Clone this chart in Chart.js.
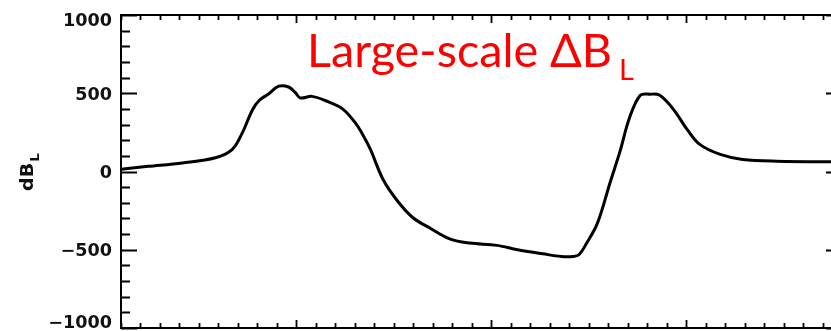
<!DOCTYPE html>
<html>
<head>
<meta charset="utf-8">
<script src="https://cdn.jsdelivr.net/npm/chart.js@4/dist/chart.umd.min.js"></script>
<style>
  html, body { margin: 0; padding: 0; background: #fff; overflow: hidden; }
  #wrap { position: relative; width: 845px; height: 331px; }
</style>
</head>
<body>
<div id="wrap"><canvas id="c" width="845" height="331"></canvas></div>
<script>
// Sample positions along the track (axis units: minor tick = 1)
const timeSteps = [
  1.0, 2.4, 4.15, 5.85, 6.7, 7.2, 7.75, 8.1, 8.55, 9.1, 9.6, 9.95, 10.2, 10.8,
  11.5, 12.35, 13.0, 13.45, 13.8, 14.45, 15.2, 16.0, 16.85, 17.9, 18.9, 20.3,
  21.35, 22.65, 23.6, 24.2, 24.5, 24.9, 25.45, 26.1, 26.6, 27.1, 27.65, 28.15,
  28.65, 29.35, 30.05, 30.7, 31.75, 32.9, 34.65, 38.0
];
// Large-scale dB_L
const deltaBL = [
  15, 33, 55, 88, 140, 240, 395, 455, 494, 545, 540, 504, 470, 480,
  452, 402, 315, 226, 141, -51, -190, -297, -361, -432, -457, -472,
  -500, -526, -543, -543, -532, -457, -330, -70, 125, 345, 487, 494,
  487, 397, 269, 173, 109, 77, 66, 62
];
const yTickValues = [1000, 500, 0, -500, -1000];
const yTickLabels = ['1000', '500', '0', '\u2212500', '\u22121000'];
const yMinorStep = 100;
const xMin = 1, xMax = 38, xMajorStep = 10;
const titleMain = 'Large-scale \u0394B';
const titleSub = 'L';
const yTitleMain = 'dB';
const yTitleSub = 'L';

const points = timeSteps.map((t, i) => ({ x: t, y: deltaBL[i] }));

// Frame with inward-pointing ticks on all four sides, plus text overlays
const framePlugin = {
  id: 'idlFrame',
  afterDatasetsDraw(chart) {
    const { ctx, chartArea: a, scales } = chart;
    const xs = scales.x, ys = scales.y;
    ctx.save();
    ctx.strokeStyle = '#000';
    ctx.lineWidth = 2;
    ctx.lineCap = 'butt';
    ctx.strokeRect(a.left, a.top, a.right - a.left, a.bottom - a.top);

    ctx.lineWidth = 1.8;
    ctx.beginPath();
    // x ticks (top and bottom)
    for (let v = Math.ceil(xMin); v <= xMax; v++) {
      const px = Math.round(xs.getPixelForValue(v)) + 0.5;
      const len = (v % xMajorStep === 0) ? 8 : 5;
      ctx.moveTo(px, a.bottom); ctx.lineTo(px, a.bottom - len);
      ctx.moveTo(px, a.top); ctx.lineTo(px, a.top + len);
    }
    // y ticks (left and right)
    for (let v = ys.min; v <= ys.max; v += yMinorStep) {
      const py = Math.round(ys.getPixelForValue(v)) + 0.5;
      const len = (v % 500 === 0) ? 16 : 9;
      ctx.moveTo(a.left, py); ctx.lineTo(a.left + len, py);
      ctx.moveTo(a.right, py); ctx.lineTo(a.right - len, py);
    }
    ctx.stroke();

    // y tick labels
    ctx.fillStyle = '#111';
    ctx.font = 'bold 17px "DejaVu Sans"';
    const sx = 49 / ctx.measureText('1000').width;
    ctx.textAlign = 'right';
    ctx.textBaseline = 'middle';
    yTickValues.forEach((v, i) => {
      let py = ys.getPixelForValue(v) + 2;
      py = Math.min(Math.max(py, a.top + 7), a.bottom - 4);
      ctx.save();
      ctx.translate(112, py);
      ctx.scale(sx, 1);
      ctx.fillText(yTickLabels[i], 0, 0);
      ctx.restore();
    });

    // y axis title, rotated
    ctx.save();
    ctx.translate(33, 191);
    ctx.rotate(-Math.PI / 2);
    ctx.textAlign = 'left';
    ctx.textBaseline = 'alphabetic';
    ctx.font = 'bold 17px "DejaVu Sans"';
    const tsx = 1.12;
    ctx.scale(tsx, 1);
    ctx.fillText(yTitleMain, 0, 0);
    const w = ctx.measureText(yTitleMain).width;
    ctx.font = 'bold 12px "DejaVu Sans"';
    ctx.fillText(yTitleSub, w + 1, 6);
    ctx.restore();

    // red title inside the plot
    ctx.save();
    ctx.fillStyle = '#ff0000';
    ctx.textAlign = 'left';
    ctx.textBaseline = 'alphabetic';
    ctx.font = '47px Lato';
    const mw = ctx.measureText(titleMain).width;
    const hs = 305 / mw;
    ctx.translate(307, 67);
    ctx.scale(hs, 1);
    ctx.fillText(titleMain, 0, 0);
    ctx.restore();
    ctx.save();
    ctx.fillStyle = '#ff0000';
    ctx.textAlign = 'left';
    ctx.textBaseline = 'alphabetic';
    ctx.font = '29px Lato';
    ctx.fillText(titleSub, 619, 80);
    ctx.restore();

    ctx.restore();
  }
};

new Chart(document.getElementById('c'), {
  type: 'line',
  data: {
    datasets: [{
      data: points,
      borderColor: '#000',
      borderWidth: 3,
      pointRadius: 0,
      fill: false,
      tension: 0.35,
      borderJoinStyle: 'round',
      borderCapStyle: 'round'
    }]
  },
  options: {
    responsive: false,
    devicePixelRatio: 1,
    animation: false,
    layout: { padding: { left: 0, top: 15, right: 3, bottom: 0 } },
    plugins: { legend: { display: false }, tooltip: { enabled: false }, title: { display: false } },
    scales: {
      x: {
        type: 'linear',
        min: xMin,
        max: xMax,
        grid: { display: false },
        border: { display: false },
        ticks: { display: false },
        afterFit(s) { s.height = 3; }
      },
      y: {
        min: -1000,
        max: 1000,
        grid: { display: false },
        border: { display: false },
        ticks: { display: false, stepSize: 500 },
        afterFit(s) { s.width = 121; }
      }
    }
  },
  plugins: [framePlugin]
});
</script>
</body>
</html>
